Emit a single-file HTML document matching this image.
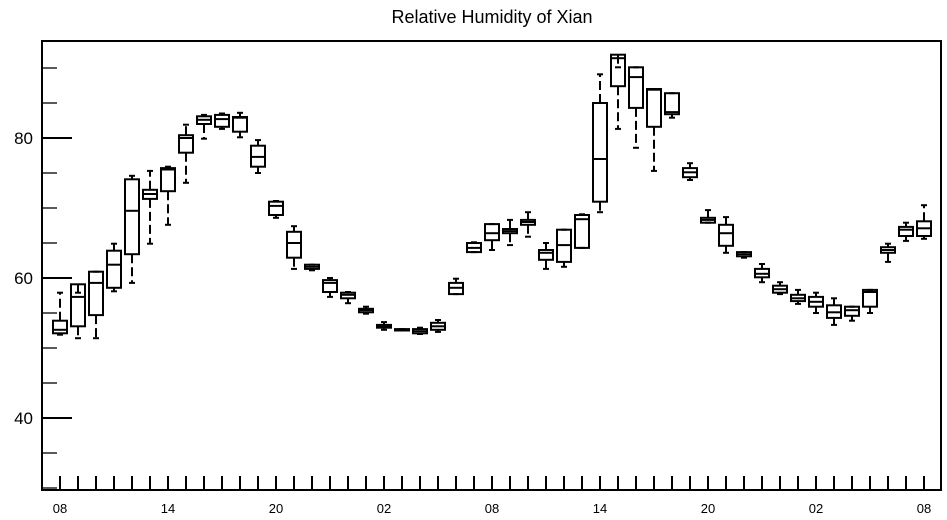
<!DOCTYPE html>
<html><head><meta charset="utf-8"><style>
html,body{margin:0;padding:0;background:#fff;}
svg{display:block;font-family:"Liberation Sans",Arial,sans-serif;}
</style></head><body>
<svg id="chart" width="947" height="520" viewBox="0 0 947 520">
<text x="492" y="23" text-anchor="middle" font-size="18">Relative Humidity of Xian</text>
<g id="plot"></g>
<rect x="42" y="41" width="899" height="449" fill="none" stroke="#000" stroke-width="2"/>
</svg>
<script>
const hourLabels = ["08","14","20","02","08","14","20","02","08"];
const yTickValues = [40, 60, 80];
const maxVals = [57.9,57.9,60.9,64.9,74.6,75.3,75.9,81.9,83.3,83.5,83.6,79.7,71.0,67.4,61.9,60.0,58.0,55.9,53.7,52.7,52.9,54.0,59.9,65.1,67.7,68.3,69.4,65.0,66.9,69.1,89.1,90.1,90.1,87.0,86.4,76.4,69.7,68.7,63.7,62.0,59.4,58.3,57.9,57.1,55.9,58.3,64.9,67.9,70.4];
const q3Vals = [53.9,59.1,60.9,63.9,74.1,72.6,75.7,80.4,83.1,83.3,83.0,78.9,70.9,66.6,61.9,59.7,57.9,55.6,53.3,52.7,52.7,53.6,59.3,65.0,67.7,67.0,68.3,64.0,66.9,69.0,85.0,91.9,90.1,87.0,86.4,75.7,68.6,67.6,63.7,61.3,58.9,57.6,57.3,56.1,55.9,58.3,64.4,67.3,68.1];
const medVals = [52.6,57.3,59.3,61.9,69.6,72.0,75.5,80.0,82.6,82.7,82.9,77.3,70.3,65.0,61.6,59.3,57.6,55.4,53.1,52.6,52.4,53.1,58.6,64.3,66.4,66.7,68.0,63.6,64.7,68.4,77.0,91.4,88.7,86.9,83.7,75.1,68.3,66.4,63.4,60.6,58.4,57.1,56.6,55.1,55.4,58.0,64.0,66.9,67.1];
const q1Vals = [52.1,53.1,54.7,58.6,63.4,71.3,72.4,77.9,82.0,81.6,80.9,75.9,69.0,62.9,61.3,58.0,57.1,55.1,52.9,52.5,52.1,52.6,57.7,63.7,65.4,66.4,67.6,62.6,62.3,64.3,70.9,87.4,84.3,81.6,83.4,74.4,67.9,64.6,63.1,60.1,57.9,56.7,55.9,54.3,54.6,55.9,63.6,66.0,66.0];
const minVals = [51.9,51.4,51.4,58.1,59.3,64.9,67.6,73.6,79.9,81.3,80.1,75.0,68.6,61.3,61.1,57.3,56.4,54.9,52.6,52.5,52.0,52.3,57.7,63.7,64.0,64.7,65.9,61.3,61.6,64.3,69.4,81.3,78.6,75.3,82.9,74.0,67.9,63.6,62.9,59.4,57.7,56.3,55.0,53.3,53.9,55.0,62.3,65.3,65.6];

const NS = "http://www.w3.org/2000/svg";
const plot = document.getElementById("plot");
const xOf = i => 60 + i * 18;
const yOf = v => 138 + (80 - v) * 7;
function mk(tag, attrs) {
  const e = document.createElementNS(NS, tag);
  for (const k in attrs) e.setAttribute(k, attrs[k]);
  plot.appendChild(e);
  return e;
}
// y ticks
for (let v = 30; v <= 90; v += 5) {
  const major = yTickValues.includes(v);
  const t = mk("line", {x1: 42, x2: major ? 72 : 57, y1: yOf(v), y2: yOf(v), stroke: "#000", "stroke-width": major ? 2 : 1.3});
  
  
}
yTickValues.forEach(v => {
  const t = mk("text", {x: 33, y: yOf(v) + 6, "text-anchor": "end", "font-size": 17});
  t.textContent = v;
  
  
});
// x ticks
for (let i = 0; i < maxVals.length; i++) {
  const t = mk("line", {x1: xOf(i), x2: xOf(i), y1: 490, y2: 476, stroke: "#000", "stroke-width": 2});
  
  
}
hourLabels.forEach((h, k) => {
  const t = mk("text", {x: xOf(k * 6), y: 513, "text-anchor": "middle", "font-size": 13});
  t.textContent = h;
  
  
});
// boxes
for (let i = 0; i < maxVals.length; i++) {
  const cx = xOf(i);
  const w1 = mk("line", {x1: cx, x2: cx, y1: yOf(q3Vals[i]), y2: yOf(maxVals[i]), stroke: "#000", "stroke-width": 2, "stroke-dasharray": "9,4"});
  
  
  const w2 = mk("line", {x1: cx, x2: cx, y1: yOf(q1Vals[i]), y2: yOf(minVals[i]), stroke: "#000", "stroke-width": 2, "stroke-dasharray": "9,4"});
  
  
  const c1 = mk("line", {x1: cx - 3, x2: cx + 3, y1: yOf(maxVals[i]), y2: yOf(maxVals[i]), stroke: "#000", "stroke-width": 2});
  
  
  const c2 = mk("line", {x1: cx - 3, x2: cx + 3, y1: yOf(minVals[i]), y2: yOf(minVals[i]), stroke: "#000", "stroke-width": 2});
  
  
  const top = yOf(q3Vals[i]), bot = yOf(q1Vals[i]);
  const b = mk("rect", {x: cx - 7, y: top, width: 14, height: Math.max(bot - top, 1), fill: "none", stroke: "#000", "stroke-width": 2});
  
  
  const m = mk("line", {x1: cx - 7, x2: cx + 7, y1: yOf(medVals[i]), y2: yOf(medVals[i]), stroke: "#000", "stroke-width": 2});
  
  
}
</script>
</body></html>
